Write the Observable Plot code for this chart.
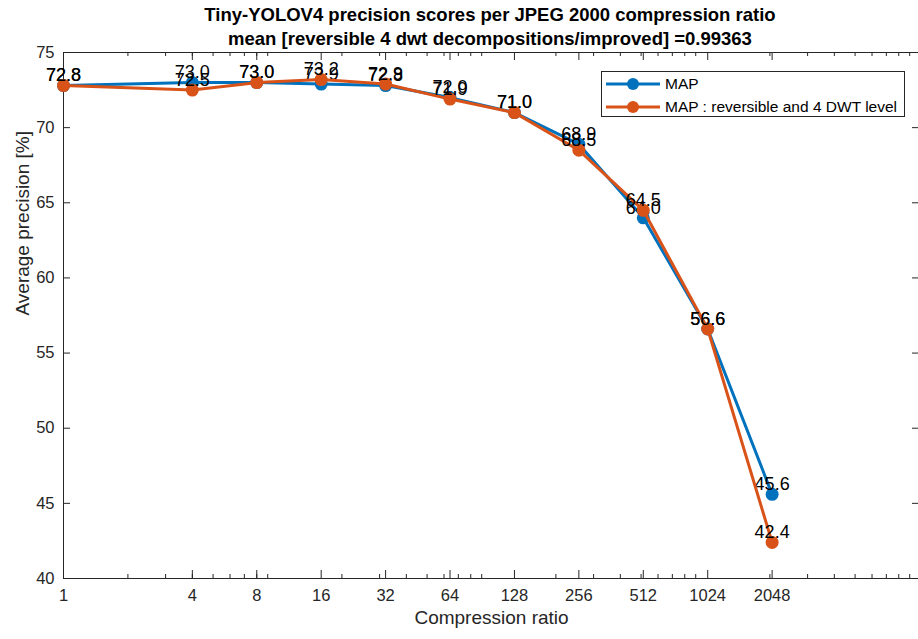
<!DOCTYPE html>
<html><head><meta charset="utf-8">
<script src="https://cdn.jsdelivr.net/npm/d3@7"></script>
<script src="https://cdn.jsdelivr.net/npm/@observablehq/plot@0.6"></script>
<style>
body{margin:0;background:#fff;font-family:"Liberation Sans",Arial,Helvetica,sans-serif;}
#wrap{position:relative;width:918px;height:639px;overflow:hidden;background:#fff;}
#title{position:relative;height:30px;z-index:2;}
#title div{position:absolute;left:0;width:980px;text-align:center;font-weight:bold;font-size:18.5px;line-height:20px;color:#000;white-space:nowrap;}
#chart{position:relative;z-index:1;}
#legend{position:absolute;left:601px;top:71px;width:302px;height:44px;border:1px solid #262626;background:#fff;z-index:3;}
#legend .row{position:absolute;left:0;height:22px;display:flex;align-items:center;font-size:15.5px;color:#000;white-space:nowrap;}
#legend svg{display:block;margin-right:4px;}
</style></head>
<body><div id="wrap">
<div id="title"><div id="t1" style="top:5px"></div><div id="t2" style="top:29px"></div></div>
<div id="chart"></div>
<div id="legend"></div>
</div>
<script>
const titleLines = ["Tiny-YOLOV4 precision scores per JPEG 2000 compression ratio",
                    "mean [reversible 4 dwt decompositions/improved] =0.99363"];
const ratios = [1, 4, 8, 16, 32, 64, 128, 256, 512, 1024, 2048];
const mapScores = [72.8, 73.0, 73.0, 72.9, 72.8, 72.0, 71.0, 68.9, 64.0, 56.6, 45.6];
const improvedScores = [72.8, 72.5, 73.0, 73.2, 72.9, 71.9, 71.0, 68.5, 64.5, 56.6, 42.4];
const seriesNames = ["MAP", "MAP : reversible and 4 DWT level"];
const seriesColors = ["#0072BD", "#D95319"];
const xTicks = [1, 4, 8, 16, 32, 64, 128, 256, 512, 1024, 2048];
const xMinorTicks = [2,3,4,5,6,7,8,9,20,30,40,50,60,70,80,90,200,300,400,500,600,700,800,900,2000,3000,4000,5000,6000,7000,8000,9000];
const yTicks = [40, 45, 50, 55, 60, 65, 70, 75];
const xDomain = [1, 10000];
const yDomain = [40, 75];
const xLabel = "Compression ratio";
const yLabel = "Average precision [%]";

document.getElementById("t1").textContent = titleLines[0];
document.getElementById("t2").textContent = titleLines[1];

const mapData = ratios.map((r, i) => ({ratio: r, score: mapScores[i]}));
const impData = ratios.map((r, i) => ({ratio: r, score: improvedScores[i]}));

const W = 918, H = 609, mT = 22, mB = 61, mL = 63, mR = -1;
const pw = W - mL - mR, ph = H - mT - mB;
const axisColor = "#262626";
const font = '"Liberation Sans", Arial, Helvetica, sans-serif';

function series(data, color) {
  return [
    Plot.line(data, {x: "ratio", y: "score", stroke: color, strokeWidth: 3}),
    Plot.dot(data, {x: "ratio", y: "score", fill: color, r: 6.5, stroke: null}),
    Plot.text(data, {x: "ratio", y: "score", text: d => d.score.toFixed(1), dy: -10, fontSize: 18, fill: "#000"})
  ];
}

const chart = Plot.plot({
  width: W, height: H,
  marginTop: mT, marginBottom: mB, marginLeft: mL, marginRight: mR,
  style: {fontFamily: font, background: "transparent", color: axisColor},
  x: {type: "log", domain: xDomain, axis: null},
  y: {domain: yDomain},
  marks: [
    // x tick labels
    Plot.text(xTicks, {x: d => d, frameAnchor: "bottom", dy: 22, text: d => String(d), fontSize: 16.5, fill: axisColor}),
    // x axis label
    Plot.text([xLabel], {frameAnchor: "bottom", dy: 45, text: d => d, fontSize: 19, fill: axisColor}),
    // y tick labels and label
    Plot.axisY(yTicks, {tickSize: 0, tickPadding: 9, tickFormat: d => String(d), fontSize: 16.5, fill: axisColor,
      label: null}),
    Plot.text([yLabel], {frameAnchor: "left", dx: -41, rotate: -90, text: d => d, fontSize: 19, fill: axisColor}),
    Plot.tickX(xMinorTicks, {x: d => d, insetTop: ph - 4, stroke: axisColor}),
    Plot.tickX(xMinorTicks, {x: d => d, insetBottom: ph - 4, stroke: axisColor}),
    Plot.tickX(xTicks, {x: d => d, insetTop: ph - 8, stroke: axisColor}),
    Plot.tickX(xTicks, {x: d => d, insetBottom: ph - 8, stroke: axisColor}),
    Plot.tickY(yTicks, {y: d => d, insetRight: pw - 7, stroke: axisColor}),
    Plot.tickY(yTicks, {y: d => d, insetLeft: pw - 7, stroke: axisColor}),
    Plot.frame({stroke: axisColor}),
    ...series(mapData, seriesColors[0]),
    ...series(impData, seriesColors[1])
  ]
});
document.getElementById("chart").appendChild(chart);

const legend = document.getElementById("legend");
seriesNames.forEach((name, i) => {
  const row = document.createElement("div");
  row.className = "row";
  row.style.top = (i === 0 ? 1 : 24) + "px";
  row.style.left = "3px";
  const ns = "http://www.w3.org/2000/svg";
  const s = document.createElementNS(ns, "svg");
  s.setAttribute("width", 56); s.setAttribute("height", 20);
  const ln = document.createElementNS(ns, "line");
  ln.setAttribute("x1", 1); ln.setAttribute("x2", 55); ln.setAttribute("y1", 10); ln.setAttribute("y2", 10);
  ln.setAttribute("stroke", seriesColors[i]); ln.setAttribute("stroke-width", 3);
  const c = document.createElementNS(ns, "circle");
  c.setAttribute("cx", 28); c.setAttribute("cy", 10); c.setAttribute("r", 6); c.setAttribute("fill", seriesColors[i]);
  s.appendChild(ln); s.appendChild(c);
  const sp = document.createElement("span");
  sp.textContent = name;
  row.appendChild(s); row.appendChild(sp);
  legend.appendChild(row);
});
</script>
</body></html>
